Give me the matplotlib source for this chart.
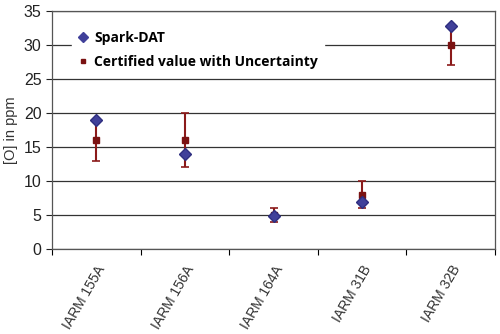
import matplotlib.pyplot as plt
from matplotlib.lines import Line2D
import numpy as np

samples = ["IARM 155A", "IARM 156A", "IARM 164A", "IARM 31B", "IARM 32B"]
spark_dat = [19, 14, 4.8, 6.9, 32.8]
certified = [16, 16, 5, 8, 30]
uncertainty = [3, 4, 1.1, 2, 3]

plt.rcParams['font.family'] = ['Liberation Sans', 'DejaVu Sans']

fig = plt.figure(figsize=(5, 3.34), dpi=100)
ax = fig.add_axes([0.104, 0.2545, 0.886, 0.7125])

x = np.arange(len(samples))
ax.errorbar(x, certified, yerr=uncertainty, fmt='s', color='#7a1212', ms=4.5,
            ecolor='#8b1a1a', elinewidth=1.5, capsize=3, capthick=1.2, zorder=3)
ax.plot(x, spark_dat, 'D', color='#40409a', mec='#2e2e80', ms=6.3, zorder=4)

ax.set_xlim(-0.5, len(samples) - 0.5)
ax.set_ylim(0, 35)
ax.set_yticks(np.arange(0, 36, 5))
ax.set_xticks(np.arange(-0.5, len(samples), 1))
ax.set_xticklabels([])
ax.set_xticks(x, minor=True)
ax.set_xticklabels(samples, minor=True, rotation=60, ha='right',
                   rotation_mode='anchor', fontsize=10, color='#333333')
ax.tick_params(axis='x', which='minor', length=0, pad=10)
ax.tick_params(axis='x', which='major', length=4, direction='out')
ax.tick_params(axis='y', length=4, direction='out', labelsize=11.5, colors='#222222')
ax.yaxis.grid(True, color='#333333', lw=0.9)
ax.set_axisbelow(True)
for s in ax.spines.values():
    s.set_color('#555555')
    s.set_linewidth(0.9)

ax.set_ylabel('[O] in ppm', fontsize=10.5, color='#333333')

handles = [
    Line2D([], [], ls='none', marker='D', color='#40409a', ms=5),
    Line2D([], [], ls='none', marker='s', color='#7a1212', ms=3.5),
]
labels = ['Spark-DAT', 'Certified value with Uncertainty']
leg = ax.legend(handles, labels, loc='upper left', bbox_to_anchor=(0.03, 0.97),
                frameon=True, facecolor='white', edgecolor='white', framealpha=1,
                fancybox=False, labelspacing=0.75, handletextpad=0.4,
                handlelength=0.8, borderpad=0.4,
                prop={'family': 'Open Sans', 'weight': 'bold', 'size': 10})
leg.set_zorder(5)

fig.savefig('out.png', dpi=100)
